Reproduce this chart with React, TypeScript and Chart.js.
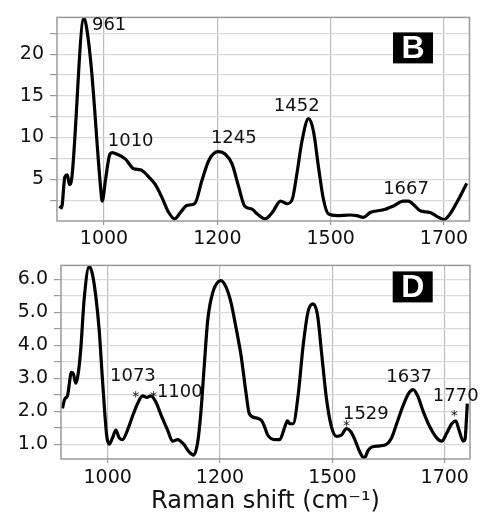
import React, { useEffect, useRef } from 'react';
import { Chart, registerables } from 'chart.js';

Chart.register(...registerables);

// x positions are along the printed axis: ticks at 1000/1200/1400/1600 carry labels 1000/1200/1500/1700
const X_TICK_POS = [1000, 1200, 1400, 1600];
const X_TICK_LABELS = ['1000', '1200', '1500', '1700'];
const X_MIN = 917;
const X_MAX = 1645;

// Panel B
const B_X = [921.5, 925, 930.9, 935.1, 939.1, 942.7, 964.4, 970.3, 977.9, 993.8, 996.8, 1002.6, 1010.2, 1014.4, 1023.2, 1037.8, 1052.5, 1064.3, 1078.9, 1090.7, 1102.5, 1114.2, 1124.7, 1134.8, 1146.6, 1160, 1173, 1184.7, 1201.2, 1214.1, 1225.9, 1237.5, 1248.1, 1261.1, 1270.5, 1284, 1296.9, 1311.5, 1323.3, 1332.2, 1340.4, 1349.3, 1360.9, 1369.7, 1378.5, 1387.3, 1396.1, 1410.9, 1434.4, 1446.2, 1457.8, 1469.6, 1493.1, 1510.7, 1528.3, 1537.2, 1548.9, 1557.7, 1575.4, 1587.2, 1600.1, 1610.6, 1622.4, 1640.1];
const B_Y = [1.8, 1.57, 5.29, 5.52, 4.36, 4.94, 24.3, 22.7, 18.1, 4.13, 2.38, 4.94, 8.0, 8.2, 8.0, 7.42, 6.26, 6.14, 5.29, 4.36, 2.77, 1.02, 0.26, 1.02, 1.88, 2.07, 4.91, 7.23, 8.31, 8.0, 6.84, 4.13, 1.8, 1.42, 0.84, 0.26, 1.02, 2.38, 2.07, 2.6, 5.67, 9.56, 12.27, 10.72, 6.45, 2.58, 0.84, 0.64, 0.72, 0.64, 0.44, 1.02, 1.34, 1.8, 2.38, 2.38, 1.8, 1.22, 1.02, 0.56, 0.17, 0.84, 2.19, 4.51];
const B_Y_TICKS = [2.5, 5, 7.5, 10, 12.5, 15, 17.5, 20, 22.5];
const B_Y_LABELED = [5, 10, 15, 20];
const B_PEAK_TEXT = ['961', '1010', '1245', '1452', '1667'];
const B_PEAK_X = [1009, 1047, 1229, 1340, 1533];
const B_PEAK_Y = [23.5, 9.56, 9.94, 13.74, 3.81];

// Panel D
const D_X = [919.6, 923.7, 928.5, 935.6, 939.2, 943.3, 947.5, 952.2, 958.2, 967.2, 973, 978.9, 985, 990.9, 998.5, 1002.8, 1008.7, 1014.6, 1020.6, 1026.5, 1035.4, 1044.3, 1053.2, 1062.2, 1069.8, 1077, 1085.9, 1094.8, 1106.7, 1115.6, 1124.5, 1135.2, 1145.4, 1153.1, 1160.2, 1166.1, 1172.1, 1178, 1186.9, 1201.7, 1210.6, 1219.5, 1228.4, 1237.4, 1246.3, 1252.3, 1264.1, 1274.3, 1279.6, 1285, 1297.4, 1306.3, 1315.3, 1320.1, 1324.2, 1330.1, 1339, 1347.9, 1356.8, 1365.7, 1373.5, 1380.7, 1389.6, 1398.5, 1407.4, 1416.3, 1425.2, 1432.9, 1440, 1448.9, 1456.6, 1463.7, 1469.8, 1484.6, 1496.5, 1505.4, 1514.4, 1526.1, 1536.3, 1543.9, 1551.8, 1561.8, 1573.7, 1585.7, 1594.6, 1603.5, 1612.4, 1619.6, 1625.4, 1633.1, 1636.1, 1639.1, 1640.2];
const D_Y = [2.09, 2.37, 2.47, 3.18, 3.13, 2.85, 3.13, 3.89, 5.4, 6.4, 6.16, 5.5, 4.46, 2.94, 1.24, 1.0, 1.19, 1.43, 1.19, 1.14, 1.43, 1.85, 2.23, 2.47, 2.42, 2.47, 2.28, 1.9, 1.43, 1.09, 1.14, 1.0, 0.76, 0.67, 1.05, 1.99, 3.41, 4.74, 5.59, 5.97, 5.78, 5.31, 4.55, 3.7, 2.56, 1.92, 1.8, 1.71, 1.52, 1.28, 1.14, 1.14, 1.52, 1.71, 1.62, 1.62, 2.47, 3.98, 5.03, 5.26, 4.93, 3.79, 2.37, 1.52, 1.24, 1.28, 1.47, 1.38, 1.14, 0.76, 0.57, 0.81, 0.91, 0.95, 1.0, 1.19, 1.62, 2.18, 2.56, 2.66, 2.47, 1.99, 1.52, 1.19, 1.09, 1.33, 1.62, 1.71, 1.43, 1.09, 1.14, 1.9, 2.23];
const D_Y_TICKS = [1, 1.5, 2, 2.5, 3, 3.5, 4, 4.5, 5, 5.5, 6];
const D_Y_LABELED = [1, 2, 3, 4, 5, 6];
const D_PEAK_TEXT = ['1073', '1100', '1529', '1637', '1770'];
const D_PEAK_X = [1045, 1128.5, 1459.6, 1536.6, 1619.5];
const D_PEAK_Y = [3.05, 2.56, 1.9, 3.02, 2.46];
const D_STAR_X = [1050.2, 1081.8, 1425.2, 1617];
const D_STAR_Y = [2.43, 2.43, 1.53, 1.83];

const FONT = '"DejaVu Sans", sans-serif';

const annotate = {
  id: 'annotate',
  afterDatasetsDraw(chart: any, _args: any, opts: any) {
    const { ctx, chartArea } = chart;
    const x = chart.scales.x;
    const y = chart.scales.y;
    ctx.save();
    // plot frame
    ctx.strokeStyle = '#9a9a9a';
    ctx.lineWidth = 1.5;
    ctx.strokeRect(chartArea.left, chartArea.top, chartArea.right - chartArea.left, chartArea.bottom - chartArea.top);
    ctx.fillStyle = '#111';
    ctx.textAlign = 'center';
    ctx.textBaseline = 'middle';
    ctx.font = `18px ${FONT}`;
    opts.text.forEach((t: string, i: number) => {
      ctx.fillText(t, x.getPixelForValue(opts.xs[i]), y.getPixelForValue(opts.ys[i]));
    });
    ctx.font = `14px ${FONT}`;
    (opts.starX || []).forEach((sx: number, i: number) => {
      ctx.fillText('*', x.getPixelForValue(sx), y.getPixelForValue(opts.starY[i]));
    });
    // panel letter box
    const bx = chartArea.right - opts.boxDx;
    const by = chartArea.top + opts.boxDy;
    ctx.fillStyle = '#000';
    ctx.fillRect(bx, by, 40, 31);
    ctx.fillStyle = '#fff';
    ctx.font = `bold 32px "Liberation Sans", Arial, sans-serif`;
    ctx.fillText(opts.panel, bx + 20, by + 17);
    ctx.restore();
  },
};

function makeConfig(p: any): any {
  return {
    type: 'line',
    data: {
      datasets: [
        {
          data: p.xs.map((v: number, i: number) => ({ x: v, y: p.ys[i] })),
          borderColor: '#000',
          borderWidth: 3.2,
          pointRadius: 0,
          cubicInterpolationMode: 'monotone',
          fill: false,
        },
      ],
    },
    options: {
      responsive: false,
      animation: false,
      devicePixelRatio: 1,
      layout: { padding: p.padding },
      plugins: {
        legend: { display: false },
        tooltip: { enabled: false },
        annotate: p.annotate,
      },
      scales: {
        x: {
          type: 'linear',
          min: X_MIN,
          max: X_MAX,
          afterBuildTicks: (s: any) => {
            s.ticks = X_TICK_POS.map((v) => ({ value: v }));
          },
          afterFit: (s: any) => {
            s.height = p.xHeight;
          },
          ticks: {
            color: '#111',
            font: { family: FONT, size: 19 },
            padding: p.xPad,
            maxRotation: 0,
            autoSkip: false,
            callback: (v: number) => {
              const i = X_TICK_POS.indexOf(v);
              return i >= 0 ? X_TICK_LABELS[i] : '';
            },
          },
          grid: { color: '#bdbdbd', lineWidth: 1.2, tickLength: 4, tickColor: '#999' },
          border: { display: false },
          title: p.title
            ? { display: true, text: p.title, color: '#111', font: { family: FONT, size: 24 }, padding: 0 }
            : { display: false },
        },
        y: {
          type: 'linear',
          min: p.yMin,
          max: p.yMax,
          afterBuildTicks: (s: any) => {
            s.ticks = p.yTicks.map((v: number) => ({ value: v }));
          },
          afterFit: (s: any) => {
            s.width = p.yWidth;
          },
          ticks: {
            color: '#111',
            font: { family: FONT, size: 19 },
            padding: 6,
            autoSkip: false,
            callback: (v: number) => (p.yLabeled.includes(v) ? p.fmt(v) : ''),
          },
          grid: { color: '#d9d9d9', lineWidth: 1.2, tickLength: 7, tickColor: '#999' },
          border: { display: false },
        },
      },
    },
    plugins: [annotate],
  };
}

export default function App() {
  const topRef = useRef<HTMLCanvasElement>(null);
  const botRef = useRef<HTMLCanvasElement>(null);

  useEffect(() => {
    const top = new Chart(
      topRef.current as HTMLCanvasElement,
      makeConfig({
        xs: B_X,
        ys: B_Y,
        yMin: 0,
        yMax: 24.4,
        yTicks: B_Y_TICKS,
        yLabeled: B_Y_LABELED,
        fmt: (v: number) => String(v),
        yWidth: 57,
        xHeight: 27,
        xPad: 3,
        padding: { top: 10, right: 14.5, bottom: 0, left: 0 },
        annotate: {
          text: B_PEAK_TEXT,
          xs: B_PEAK_X,
          ys: B_PEAK_Y,
          panel: 'B',
          boxDx: 76.5,
          boxDy: 15,
        },
      })
    );
    const bot = new Chart(
      botRef.current as HTMLCanvasElement,
      makeConfig({
        xs: D_X,
        ys: D_Y,
        yMin: 0.55,
        yMax: 6.43,
        yTicks: D_Y_TICKS,
        yLabeled: D_Y_LABELED,
        fmt: (v: number) => v.toFixed(1),
        yWidth: 61,
        xHeight: 57,
        xPad: 4,
        title: 'Raman shift (cm\u207B\u00B9)',
        padding: { top: 4, right: 14, bottom: 10, left: 0 },
        annotate: {
          text: D_PEAK_TEXT,
          xs: D_PEAK_X,
          ys: D_PEAK_Y,
          starX: D_STAR_X,
          starY: D_STAR_Y,
          panel: 'D',
          boxDx: 77.3,
          boxDy: 6,
        },
      })
    );
    return () => {
      top.destroy();
      bot.destroy();
    };
  }, []);

  return (
    <div style={{ position: 'absolute', left: 0, top: 0, width: 484, height: 526, background: '#fff' }}>
      <canvas ref={topRef} width={484} height={248} style={{ position: 'absolute', left: 0, top: 0, display: 'block' }} />
      <canvas ref={botRef} width={484} height={278} style={{ position: 'absolute', left: 0, top: 248, display: 'block' }} />
    </div>
  );
}
